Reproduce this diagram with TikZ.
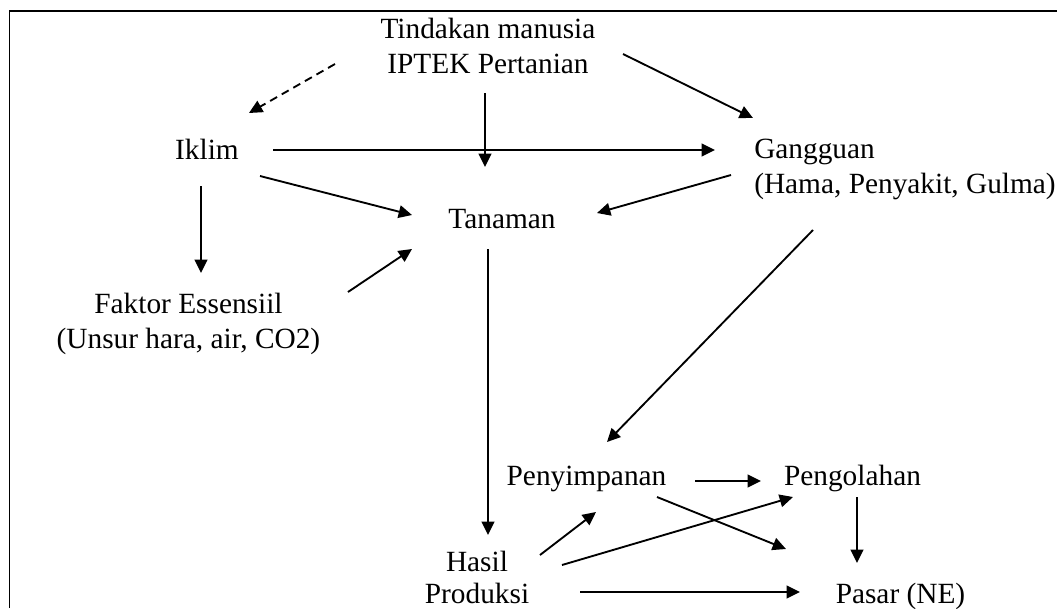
\documentclass[tikz,border=0pt]{standalone}
\usepackage{fontspec}
\setmainfont{Liberation Serif}
\usetikzlibrary{arrows.meta,calc}

\begin{document}
\begin{tikzpicture}[x=0.75pt,y=-0.75pt,
		>={Triangle[length=10pt,width=9.5pt]},
		every node/.style={font=\fontsize{22}{26}\selectfont, inner sep=0pt},
		teks/.style={anchor=base, align=center},
		panah/.style={->, line width=1.4pt}]
					\useasboundingbox (0,0) rectangle (1057,608);
					\draw[line width=0.8pt] (9.5,608) -- (9.5,11) -- (1057,11);
					
					% base of a two-line node = its last line
					\node[teks] (T) at (488,73) {Tindakan manusia\\IPTEK Pertanian};
					\node[teks] (I) at (207,159) {Iklim};
					\node[teks, anchor=base west, align=left] (G) at (754,193) {Gangguan\\(Hama, Penyakit, Gulma)};
					\node[teks] (N) at (502,228) {Tanaman};
					\node[teks] (F) at (188.5,348) {Faktor Essensiil\\(Unsur hara, air, CO2)};
					\node[teks] (S) at (586.5,485) {Penyimpanan};
					\node[teks] (O) at (852.5,485) {Pengolahan};
					\node[teks, font=\fontsize{22}{24}\selectfont] (H) at (477,603) {Hasil\\Produksi};
					\node[teks] (P) at (900.5,603) {Pasar (NE)};
					
					\draw[panah, dash pattern=on 6pt off 4pt] ($(T.base)+(-153,-9)$) -- ($(I.base)+(42,-46)$);
					\draw[panah] ($(T.base)+(135,-19)$) -- ($(G.base west)+(-1,-75)$);
					\draw[panah] ($(T.base)+(-3,20)$) -- ($(N.base)+(-17,-61)$);
					\draw[panah] ($(I.base)+(66,-9)$) -- ($(G.base west)+(-39,-43)$);
					\draw[panah] ($(I.base)+(53,17)$) -- ($(N.base)+(-90,-13)$);
					\draw[panah] ($(G.base west)+(-23,-18)$) -- ($(N.base)+(95,-15)$);
					\draw[panah] ($(I.base)+(-6,27)$) -- ($(F.base)+(12.5,-75)$);
					\draw[panah] ($(F.base)+(159.5,-56)$) -- ($(N.base)+(-90,21)$);
					\draw[panah] ($(N.base)+(-14,21)$) -- ($(H.base)+(11,-68)$);
					\draw[panah] ($(G.base west)+(59,37)$) -- ($(S.base)+(20.5,-43)$);
					\draw[panah] ($(S.base)+(108.5,-4)$) -- ($(O.base)+(-91.5,-4)$);
					\draw[panah] ($(H.base)+(63,-48)$) -- ($(S.base)+(9.5,27)$);
					\draw[panah] ($(H.base)+(85,-38)$) -- ($(O.base)+(-59.5,12)$);
					\draw[panah] ($(S.base)+(70.5,12)$) -- ($(P.base)+(-114.5,-54)$);
					\draw[panah] ($(O.base)+(4.5,12)$) -- ($(P.base)+(-43.5,-40)$);
					\draw[panah] ($(H.base)+(103,-11)$) -- ($(P.base)+(-100.5,-11)$);
				\end{tikzpicture}
\end{document}
